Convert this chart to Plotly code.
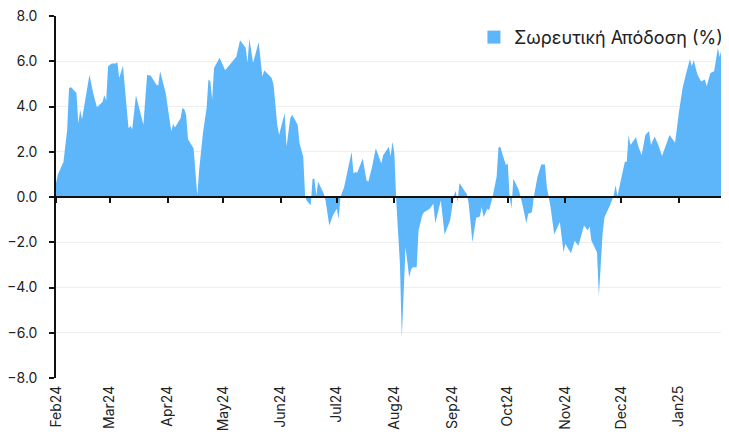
import plotly.graph_objects as go

dates = [
    "2024-02-01","2024-02-02","2024-02-05","2024-02-07","2024-02-08","2024-02-09","2024-02-12","2024-02-13",
    "2024-02-14","2024-02-15","2024-02-19","2024-02-20","2024-02-21","2024-02-23","2024-02-26","2024-02-27",
    "2024-02-28","2024-02-29","2024-03-02","2024-03-04","2024-03-05","2024-03-06","2024-03-08","2024-03-11",
    "2024-03-12","2024-03-13","2024-03-15","2024-03-19","2024-03-21","2024-03-23","2024-03-26","2024-03-27",
    "2024-03-28","2024-03-31","2024-04-01","2024-04-03","2024-04-04","2024-04-05","2024-04-08","2024-04-09",
    "2024-04-10","2024-04-11","2024-04-12","2024-04-15","2024-04-17","2024-04-18","2024-04-20","2024-04-22",
    "2024-04-23","2024-04-24","2024-04-25","2024-04-26","2024-04-29","2024-05-02","2024-05-05","2024-05-08",
    "2024-05-10","2024-05-13","2024-05-14","2024-05-15","2024-05-17","2024-05-20","2024-05-22","2024-05-23",
    "2024-05-27","2024-05-28","2024-05-30","2024-05-31","2024-06-03","2024-06-04","2024-06-06","2024-06-07",
    "2024-06-10","2024-06-11","2024-06-13","2024-06-14","2024-06-15","2024-06-17","2024-06-18","2024-06-19",
    "2024-06-20","2024-06-21","2024-06-24","2024-06-25","2024-06-27","2024-06-29","2024-07-01","2024-07-02",
    "2024-07-03","2024-07-05","2024-07-09","2024-07-10","2024-07-11","2024-07-12","2024-07-15","2024-07-17",
    "2024-07-18","2024-07-20","2024-07-22","2024-07-25","2024-07-26","2024-07-29","2024-07-30","2024-07-31",
    "2024-08-01","2024-08-02","2024-08-04","2024-08-05","2024-08-07","2024-08-09","2024-08-10","2024-08-11",
    "2024-08-13","2024-08-14","2024-08-16","2024-08-17","2024-08-20","2024-08-22","2024-08-23","2024-08-26",
    "2024-08-28","2024-08-31","2024-09-02","2024-09-03","2024-09-04","2024-09-05","2024-09-07","2024-09-09",
    "2024-09-10","2024-09-12","2024-09-14","2024-09-16","2024-09-17","2024-09-18","2024-09-20","2024-09-21",
    "2024-09-23","2024-09-25","2024-09-26","2024-09-27","2024-09-28","2024-09-30","2024-10-01","2024-10-02",
    "2024-10-03","2024-10-04","2024-10-07","2024-10-08","2024-10-09","2024-10-11","2024-10-12","2024-10-14",
    "2024-10-15","2024-10-17","2024-10-19","2024-10-21","2024-10-22","2024-10-23","2024-10-24","2024-10-26",
    "2024-10-29","2024-10-31","2024-11-01","2024-11-02","2024-11-04","2024-11-06","2024-11-08","2024-11-11",
    "2024-11-13","2024-11-14","2024-11-15","2024-11-18","2024-11-19","2024-11-21","2024-11-22","2024-11-25",
    "2024-11-26","2024-11-27","2024-11-28","2024-11-29","2024-12-01","2024-12-03","2024-12-04","2024-12-05",
    "2024-12-06","2024-12-09","2024-12-10","2024-12-12","2024-12-14","2024-12-16","2024-12-17","2024-12-19",
    "2024-12-21","2024-12-23","2024-12-27","2024-12-30","2025-01-01","2025-01-03","2025-01-05","2025-01-07",
    "2025-01-08","2025-01-09","2025-01-11","2025-01-13","2025-01-15","2025-01-16","2025-01-18","2025-01-20",
    "2025-01-22","2025-01-23","2025-01-25","2025-01-26","2025-01-27","2025-01-28",
]

cum_return = [
    0.6, 1.0, 1.55, 2.96, 4.8, 4.86, 4.6, 3.26,
    3.85, 3.44, 5.4, 4.96, 4.6, 3.97, 4.2, 4.5,
    4.27, 5.78, 5.9, 5.9, 5.96, 5.26, 5.8, 3.04,
    3.14, 3.0, 4.5, 3.19, 5.4, 5.36, 4.96, 4.93,
    5.56, 4.6, 4.0, 2.9, 3.23, 3.07, 3.48, 3.93,
    3.88, 3.63, 2.55, 2.15, 0.07, 1.19, 2.8, 3.93,
    5.19, 5.1, 4.3, 5.7, 6.15, 5.6, 5.9, 6.2,
    6.93, 6.6, 5.93, 7.0, 5.93, 6.84, 5.33, 5.6,
    5.26, 4.96, 3.19, 2.75, 3.7, 2.22, 3.48, 3.63,
    3.19, 2.37, 1.78, 0.0, -0.18, -0.37, 0.81, 0.81,
    0.07, 0.67, 0.15, -0.15, -1.26, -0.81, -0.52, -0.96,
    0.0, 0.44, 2.0, 1.04, 1.11, 1.07, 1.7, 0.74,
    0.67, 1.33, 2.15, 1.48, 1.85, 2.22, 1.8, 2.44,
    1.93, -0.15, -2.96, -6.22, -2.22, -3.56, -3.19, -3.1,
    -3.1, -1.48, -0.81, -0.67, -0.52, -0.3, -1.16, -0.15,
    -1.66, -1.04, 0.07, 0.27, -0.22, 0.62, 0.37, 0.12,
    -0.3, -2.0, -0.92, -0.86, -0.44, -0.89, -0.52, -0.59,
    0.07, 0.89, 2.19, 2.22, 1.93, 1.41, 1.48, 0.0,
    -0.52, 0.81, 0.3, 0.0, -0.37, -1.16, -0.74, -0.67,
    0.0, 0.89, 1.44, 1.44, 0.44, 0.0, -0.44, -1.66,
    -1.11, -2.44, -2.07, -2.22, -2.49, -1.93, -2.15, -1.26,
    -1.48, -1.3, -1.93, -2.44, -4.37, -1.63, -0.89, -0.37,
    -0.15, 0.07, 0.52, 0.04, 0.81, 1.56, 1.56, 2.74,
    2.3, 2.64, 2.3, 1.85, 2.74, 2.92, 2.3, 2.67,
    2.3, 1.81, 2.74, 2.4, 3.7, 4.81, 5.48, 6.1,
    5.78, 6.04, 5.41, 5.11, 5.19, 4.89, 5.48, 5.56,
    6.59, 6.19, 6.93, 6.74, 6.59, 6.74,
]

series_name = "Σωρευτική Απόδοση (%)"
y_ticks = [-8, -6, -4, -2, 0, 2, 4, 6, 8]
x_range = ["2024-02-01", "2025-01-28"]

FONT = "Inter, Roboto, sans-serif"
BLUE = "#5DB5FA"

fig = go.Figure()
fig.add_trace(go.Scatter(
    x=dates, y=cum_return, name=series_name, mode="lines",
    fill="tozeroy", fillcolor=BLUE, line=dict(color=BLUE, width=0),
    showlegend=False,
))
# legend entry drawn as a filled square swatch
fig.add_trace(go.Scatter(
    x=[None], y=[None], name=series_name, mode="markers",
    marker=dict(symbol="square", size=13, color=BLUE), showlegend=True,
))
# invisible copy on the zero-positioned axis so that it is drawn with its month ticks
fig.add_trace(go.Scatter(
    x=dates, y=cum_return, xaxis="x2", mode="lines",
    line=dict(color="rgba(0,0,0,0)", width=0), showlegend=False, hoverinfo="skip",
))

# the page body has an 8px margin, so the figure is sized 8px smaller each way
fig.update_layout(
    width=721, height=426,
    margin=dict(l=48, r=0, t=8, b=56, autoexpand=False),
    paper_bgcolor="white", plot_bgcolor="white",
    font=dict(family=FONT, color="#222", size=14),
    showlegend=True,
    legend=dict(
        x=0.621, xanchor="left", y=0.992, yanchor="top",
        font=dict(size=18, color="#222", family=FONT),
        bgcolor="rgba(255,255,255,0)", itemwidth=30,
    ),
    xaxis=dict(
        type="date", range=x_range, dtick="M1", tick0="2024-02-01",
        tickformat="%b%y", tickangle=-90, showgrid=False, zeroline=False,
        showline=False, ticks="", tickfont=dict(size=14, color="#222"),
        automargin=False, ticklabelstandoff=4, ticklabeloverflow="allow",
    ),
    xaxis2=dict(
        type="date", range=x_range, dtick="M1", tick0="2024-02-01",
        overlaying="x", anchor="free", position=0.5, matches="x",
        showline=True, linecolor="#111", linewidth=2,
        ticks="outside", ticklen=5, tickwidth=1.5, tickcolor="#111",
        showticklabels=False, showgrid=False, zeroline=False, automargin=False,
    ),
    yaxis=dict(
        range=[-8, 8], tickvals=y_ticks, tickformat=".1f",
        showgrid=True, gridcolor="#EEEEEE", gridwidth=1,
        zeroline=False, showline=True, linecolor="#111", linewidth=1.5,
        ticks="outside", ticklen=5, tickwidth=1.5, tickcolor="#111",
        tickfont=dict(size=14, color="#222"), automargin=False,
        ticklabelstandoff=9, ticklabeloverflow="allow",
    ),
)

fig.write_html("out.html")
